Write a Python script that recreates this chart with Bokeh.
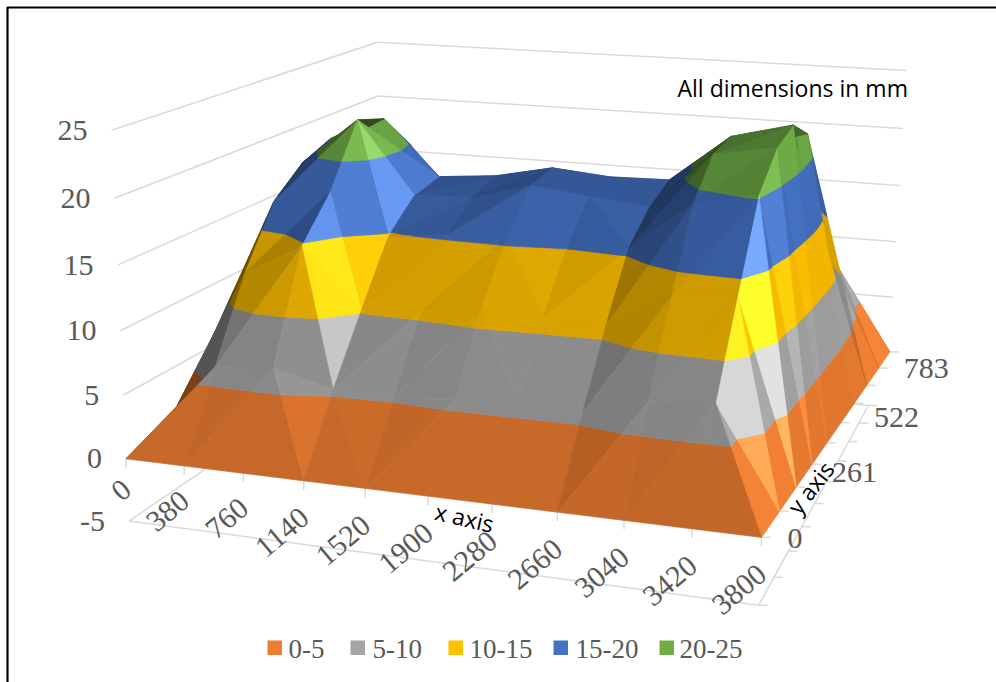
import numpy as np
from bokeh.embed import file_html
from bokeh.models import ColumnDataSource, Label, Range1d
from bokeh.plotting import figure
from bokeh.resources import INLINE

# Surface samples: one list per y position, one value per x position
x_ticks = [0, 380, 760, 1140, 1520, 1900, 2280, 2660, 3040, 3420, 3800]
y_ticks = [0, 87, 174, 261, 348, 435, 522, 609, 696, 783]
z_y0 = [0.0, 0, 0, 0, 0, 0, 0, 0, 0, 0, 0]
z_y87 = [0.0, 6.2, 6.6, 5.4, 5.2, 5.7, 5.7, 5.7, 7.1, 7.5, 0]
z_y174 = [3.0, 12.3, 14.8, 10.2, 10.5, 11.2, 11.0, 10.9, 13.5, 14.0, 0]
z_y261 = [6.0, 16.9, 18.0, 14.8, 15.3, 15.5, 15.0, 15.5, 19.3, 20.3, 0]
z_y348 = [9.0, 19.0, 22.8, 17.0, 17.2, 18.5, 18.0, 17.5, 22.0, 22.8, 0]
z_y435 = [11.0, 20.0, 22.0, 17.5, 17.9, 18.9, 18.5, 18.6, 22.4, 23.6, 0]
z_y522 = [12.0, 20.2, 19.0, 14.0, 14.0, 15.0, 15.0, 15.0, 20.5, 22.0, 0]
z_y609 = [10.0, 17.0, 13.0, 9.0, 9.0, 9.0, 9.0, 10.0, 15.0, 14.4, 0]
z_y696 = [5.0, 10.0, 7.0, 4.5, 4.5, 4.5, 4.5, 4.5, 9.0, 10.0, 0]
z_y783 = [0.0, 0, 0, 0, 0, 0, 0, 0, 0, 4.7, 0]
z_rows = [z_y0, z_y87, z_y174, z_y261, z_y348, z_y435, z_y522, z_y609, z_y696, z_y783]

z_ticks = [-5, 0, 5, 10, 15, 20, 25]
x_labels = ["0", "380", "760", "1140", "1520", "1900", "2280", "2660", "3040", "3420", "3800"]
y_labels = ["0", "261", "522", "783"]
band_names = ["0-5", "5-10", "10-15", "15-20", "20-25"]
band_edges = [0, 5, 10, 15, 20, 25]
band_colors = ["#ED7D31", "#A5A5A5", "#FFC000", "#4472C4", "#70AD47"]

X_MAX, Y_MAX, Z_SPAN = 3800.0, 783.0, 30.0
GREY_TEXT = "#595959"
GRID = "#D9D9D9"

# Perspective camera, calibrated on the corners of the plot box (world -> screen px)
calibration = [
    ((0, 0, 0), (126, 459)), ((3800, 0, 0), (759, 536)), ((3800, 783, 0), (890, 352)),
    ((0, 0, -5), (129, 522)), ((3800, 0, -5), (759, 605)), ((3800, 783, 25), (906, 70)),
    ((0, 783, 25), (377, 43)), ((0, 0, 25), (111, 128)), ((0, 783, -5), (380, 352)),
    ((3800, 783, -5), (886, 405)), ((0, 783, 0), (379, 303)),
]
rows_a, rows_b = [], []
for (wx, wy, wz), (u, v) in calibration:
    nx, ny, nz = wx / X_MAX, wy / Y_MAX, wz / Z_SPAN
    rows_a.append([nx, ny, nz, 1, 0, 0, 0, 0, -u * nx, -u * ny, -u * nz])
    rows_b.append(u)
    rows_a.append([0, 0, 0, 0, nx, ny, nz, 1, -v * nx, -v * ny, -v * nz])
    rows_b.append(v)
cam = np.append(np.linalg.lstsq(np.array(rows_a, float), np.array(rows_b, float), rcond=None)[0], 1).reshape(3, 4)
eye = -np.linalg.solve(cam[:, :3], cam[:, 3])


def project(pt):
    q = cam @ np.array([pt[0] / X_MAX, pt[1] / Y_MAX, pt[2] / Z_SPAN, 1.0])
    return q[0] / q[2], q[1] / q[2]


def clip_band(poly, lo, hi):
    """Cut a 3D polygon to the part lying between two heights."""
    for level, keep_above in ((lo, True), (hi, False)):
        out = []
        for i, a in enumerate(poly):
            b = poly[(i + 1) % len(poly)]
            ina = (a[2] >= level) if keep_above else (a[2] <= level)
            inb = (b[2] >= level) if keep_above else (b[2] <= level)
            if ina:
                out.append(a)
            if ina != inb:
                t = (level - a[2]) / (b[2] - a[2])
                out.append(tuple(a[k] + t * (b[k] - a[k]) for k in range(3)))
        poly = out
        if not poly:
            return []
    return poly


LIGHT = np.array([0.68, -0.46, 0.57])


def brightness(tri):
    # Flat shading in box proportions with a small highlight, lit from the front right
    s = np.array([1.6 / X_MAX, 1.0 / Y_MAX, 0.6 / Z_SPAN])
    a, b, c = (np.array(q) * s for q in tri)
    n = np.cross(b - a, c - a)
    n = n / np.linalg.norm(n)
    if n[2] < 0:
        n = -n
    n[1] = min(n[1], 0.0)  # slopes facing away in y keep the side light
    d = float(n @ LIGHT)
    return max(0.42, 0.25 + 0.80 * d + 0.35 * max(d, 0.0) ** 12)


def shade(color, k):
    rgb = [int(color[i:i + 2], 16) for i in (1, 3, 5)]
    if k <= 1:
        rgb = [c * k for c in rgb]
    else:
        rgb = [min(255, c * k) + (k - 1) * 0.5 * max(0, 255 - c * k) for c in rgb]
    return "#%02X%02X%02X" % tuple(int(min(255, round(c))) for c in rgb)


# Triangles of the surface; each cell is split along its steeper diagonal
triangles = []
for r in range(len(y_ticks) - 1):
    for c in range(len(x_ticks) - 1):
        p00 = (x_ticks[c], y_ticks[r], z_rows[r][c])
        p10 = (x_ticks[c + 1], y_ticks[r], z_rows[r][c + 1])
        p01 = (x_ticks[c], y_ticks[r + 1], z_rows[r + 1][c])
        p11 = (x_ticks[c + 1], y_ticks[r + 1], z_rows[r + 1][c + 1])
        if abs(p11[2] - p00[2]) > abs(p10[2] - p01[2]):
            triangles += [(p00, p10, p11), (p00, p11, p01)]
        else:
            triangles += [(p00, p10, p01), (p10, p11, p01)]


def eye_distance(tri):
    m = np.mean(np.array(tri), axis=0) / np.array([X_MAX, Y_MAX, Z_SPAN])
    return np.linalg.norm(m - eye)


triangles.sort(key=eye_distance, reverse=True)

xs, ys, fills = [], [], []
for tri in triangles:
    k = brightness(tri)
    for b, col in enumerate(band_colors):
        part = clip_band(list(tri), band_edges[b], band_edges[b + 1])
        if len(part) >= 3:
            sx, sy = zip(*[project(q) for q in part])
            xs.append(list(sx))
            ys.append(list(sy))
            fills.append(shade(col, k))

p = figure(width=996, height=682, output_backend="svg", toolbar_location=None,
           x_range=Range1d(0, 996), y_range=Range1d(682, 0), min_border=0,
           x_axis_type=None, y_axis_type=None)
p.grid.visible = False
p.outline_line_color = None
p.background_fill_color = "white"
p.border_fill_color = "white"


def seg(a, b, color=GRID, width=1.5):
    p.line([a[0], b[0]], [a[1], b[1]], line_color=color, line_width=width)


# Frame of the picture
p.line([7, 7, 996], [682, 7, 7], line_color="black", line_width=2.2)

# Wall gridlines
for z in z_ticks[1:]:
    seg(project((0, 0, z)), project((0, Y_MAX, z)))
    seg(project((0, Y_MAX, z)), project((X_MAX, Y_MAX, z)))

# Base lines and tick marks
floor_fl, floor_fr, floor_br = project((0, 0, -5)), project((X_MAX, 0, -5)), (868, 405)
seg(floor_fl, floor_fr)
seg(floor_fr, floor_br)
seg(floor_br, (800, 399))
seg(floor_fl, (300, 404))
seg(project((0, 0, 0)), project((X_MAX, 0, 0)))
seg(project((X_MAX, 0, 0)), project((X_MAX, Y_MAX, 0)))
for xt in x_ticks:
    u, v = project((xt, 0, 0))
    seg((u, v), (u, v + 9))
edge0, edge1 = np.array(project((X_MAX, 0, 0))), np.array(project((X_MAX, Y_MAX, 0)))
for yt in y_ticks:
    u, v = project((X_MAX, yt, 0))
    seg((u, v), (u + 9, v))
    frac = (v - edge0[1]) / (edge1[1] - edge0[1])
    fu = floor_fr[0] + frac * (floor_br[0] - floor_fr[0])
    fv = floor_fr[1] + frac * (floor_br[1] - floor_fr[1])
    seg((fu, fv), (fu + 9, fv))

# The surface, painted from far to near
p.patches("xs", "ys", source=ColumnDataSource(dict(xs=xs, ys=ys, fill=fills)),
          fill_color="fill", line_color="fill", line_width=0.7)


def label(u, v, s, align="left", angle=0.0, font="Liberation Serif", color=GREY_TEXT, size="30px"):
    p.add_layout(Label(x=u, y=v, text=s, text_align=align, text_baseline="middle", angle=angle,
                       angle_units="deg", text_font=font, text_color=color, text_font_size=size))


# Axis labels
for z in z_ticks:
    u, v = project((0, 0, z))
    label(u - 24, v, str(z), align="right")
for xt, s in zip(x_ticks, x_labels):
    u, v = project((xt, 0, 0))
    label(u + 1, v + 25 + 2 * len(s), s, align="right", angle=40)
label_dx, label_dy = [26, 20, 20, 14], [1, 8, 14, 17]
for yt, s, dx, dy in zip(y_ticks[::3], y_labels, label_dx, label_dy):
    u, v = project((X_MAX, yt, 0))
    label(u + dx, v + dy, s)

note = dict(font="Open Sans", color="black", size="23px")
label(677, 87, "All dimensions in mm", **note)
label(464, 517, "x axis", align="center", angle=-13, **note)
label(810, 487, "y axis", align="center", angle=52, **note)

# Legend
swatch_x = [267, 350, 448, 553, 659]
legend_text_x = [288, 372, 469, 575, 679]
for sx, tx, name, col in zip(swatch_x, legend_text_x, band_names, band_colors):
    p.quad(left=sx, right=sx + 14.5, top=640, bottom=654.5, fill_color=col, line_color=None)
    label(tx, 648, name, size="27px")

open("out.html", "w").write(file_html(p, INLINE))
